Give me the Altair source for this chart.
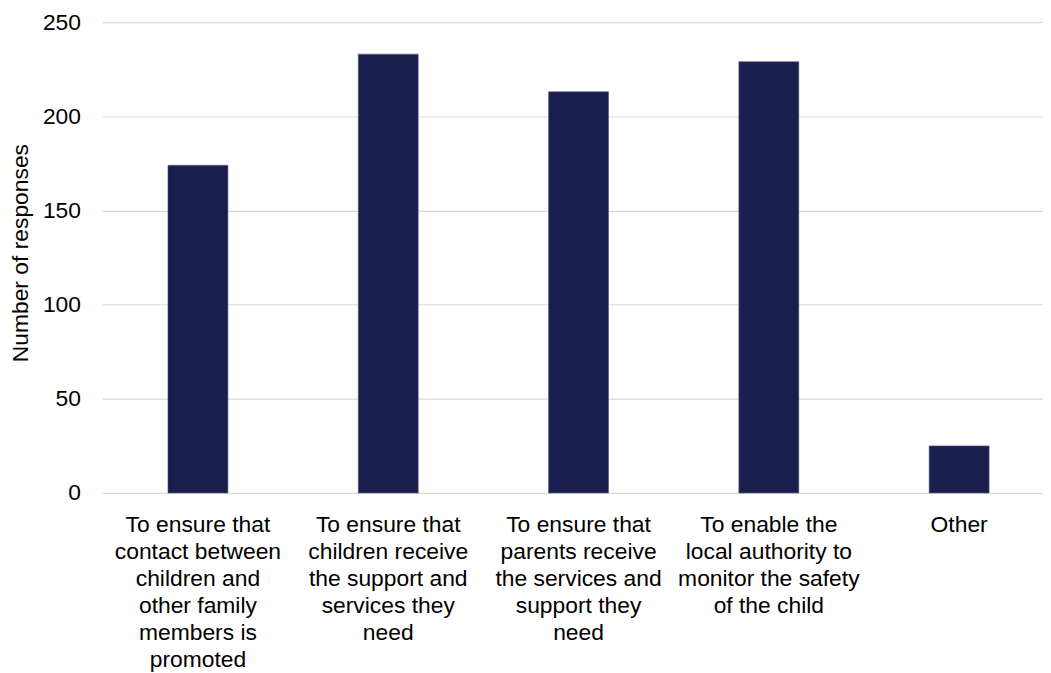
import altair as alt
import pandas as pd

categories = [
    "To ensure that\ncontact between\nchildren and\nother family\nmembers is\npromoted",
    "To ensure that\nchildren receive\nthe support and\nservices they\nneed",
    "To ensure that\nparents receive\nthe services and\nsupport they\nneed",
    "To enable the\nlocal authority to\nmonitor the safety\nof the child",
    "Other",
]
responses = [174, 233, 213, 229, 25]
y_ticks = [0, 50, 100, 150, 200, 250]

df = pd.DataFrame({"category": categories, "responses": responses})

FONT = "Liberation Sans"
FS = 23

chart = alt.Chart(df).mark_bar(
    color="#1A1E4F", stroke="#55597D", strokeWidth=0.6
).encode(
    x=alt.X(
        "category:N",
        sort=categories,
        scale=alt.Scale(paddingInner=0.685, paddingOuter=0.314, align=0.549),
        axis=alt.Axis(
            title=None,
            labelAngle=0,
            labelLimit=0,
            labelExpr="split(datum.label, '\\n')",
            labelLineHeight=27.2,
            labelFont=FONT,
            labelFontSize=FS,
            labelColor="#000000",
            labelPadding=21,
            ticks=False,
            domain=False,
        ),
    ),
    y=alt.Y(
        "responses:Q",
        scale=alt.Scale(domain=[0, 250], nice=False),
        axis=alt.Axis(
            title="Number of responses",
            values=y_ticks,
            ticks=False,
            domain=False,
            grid=True,
            gridColor="#D9D9D9",
            gridWidth=1.2,
            labelFont=FONT,
            labelFontSize=FS,
            labelColor="#000000",
            labelPadding=22,
            titleFont=FONT,
            titleFontSize=FS,
            titleFontWeight="normal",
            titleColor="#000000",
            titleAngle=270,
            titleAlign="center",
            titleBaseline="middle",
            titleX=-82,
            titleY=232,
        ),
    ),
).properties(
    width=947,
    height=474,
    autosize=alt.AutoSizeParams(type="none"),
    padding={"left": 95, "top": 12, "right": 0, "bottom": 179},
).configure_view(stroke=None)

chart.save("out.html", embed_options={"renderer": "svg", "actions": False})
